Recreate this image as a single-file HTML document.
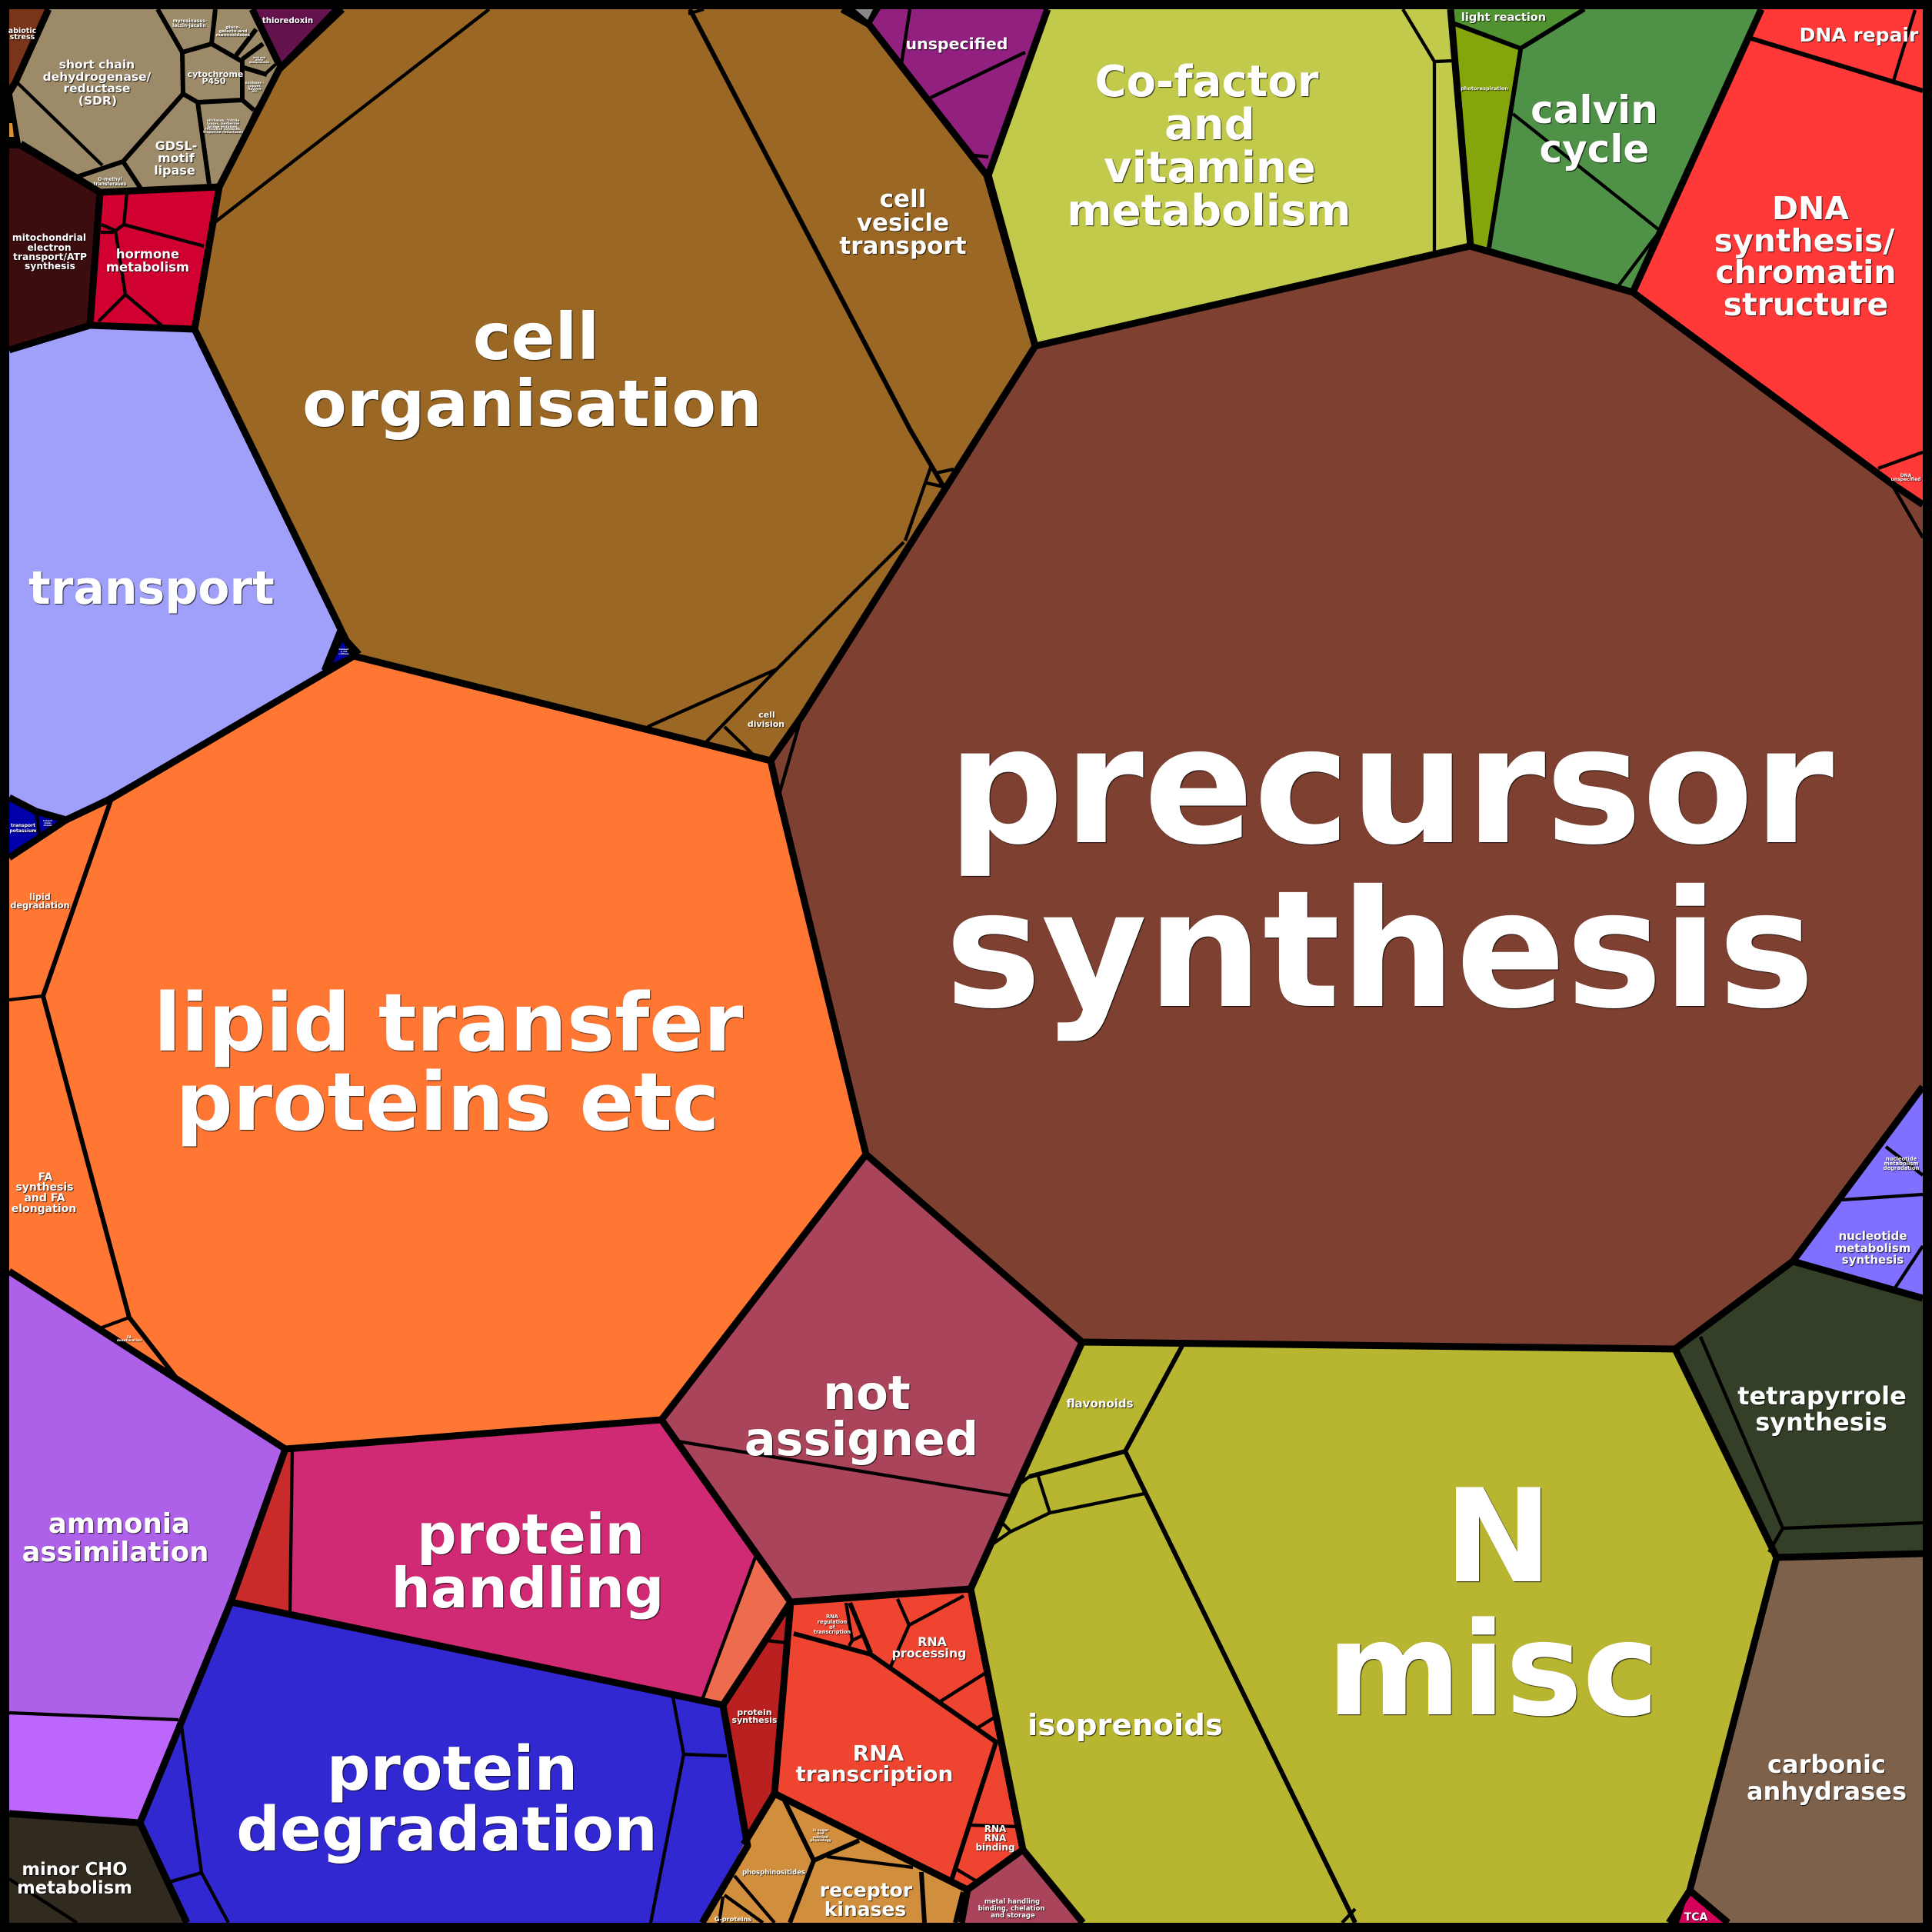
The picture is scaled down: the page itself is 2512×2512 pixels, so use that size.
<!DOCTYPE html>
<html><head><meta charset="utf-8"><style>
html,body{margin:0;padding:0;background:#000}
svg{display:block}
text{font-family:"DejaVu Sans","Liberation Sans",sans-serif;font-weight:700;fill:#fff;text-anchor:middle;text-shadow:1px 1px 1px rgba(0,0,0,.8)}
.a,.b,.c{fill:none;stroke:#000;stroke-linejoin:round;stroke-linecap:butt}
.a{stroke-width:9}.b{stroke-width:6}.c{stroke-width:4.3}
</style></head><body>
<svg xmlns="http://www.w3.org/2000/svg" width="2512" height="2512" viewBox="0 0 2512 2512">
<rect width="2512" height="2512" fill="#000"/>
<!-- fills -->
<polygon fill="#9a6724" points="445,12 363,90 285,243 253,428 460,853 1002,989 1042,932 1346,450 1283,228 1130,32 1095,12"/>
<polygon fill="#7e4131" points="1346,450 1911,320 2123,380 2461,630 2500,660 2500,1413 2331,1640 2178,1754 1407,1745 1126,1501 1012,1033 1002,989 1042,932"/>
<polygon fill="#ff7733" points="460,853 1002,989 1012,1033 1126,1501 860,1846 371,1884 12,1653 12,1115 86,1066 145,1038"/>
<polygon fill="#a0a0fa" points="12,455 117,423 253,428 445,830 425,873 86,1066 47,1055 12,1037"/>
<polygon fill="#0000aa" points="12,1037 47,1055 86,1065 12,1115"/>
<polygon fill="#ad60e8" points="12,1653 371,1884 300,2083 238,2237 230,2240 12,2227"/>
<polygon fill="#bd66fb" points="12,2227 232,2236 182,2370 12,2358"/>
<polygon fill="#302a1f" points="12,2358 182,2370 243,2500 12,2500"/>
<polygon fill="#d02a74" points="371,1884 860,1846 1028,2083 940,2217 300,2083"/>
<polygon fill="#c92a2a" points="371,1884 380,1884 377,2110 300,2083"/>
<polygon fill="#ec6c4d" points="982,2025 1028,2083 940,2217 913,2210"/>
<polygon fill="#aa445a" points="860,1846 1126,1501 1407,1745 1262,2066 1028,2083"/>
<polygon fill="#b8b630" points="1407,1745 2178,1754 2310,2025 2197,2458 2170,2500 1408,2500 1330,2405 1262,2066"/>
<polygon fill="#343f27" points="2178,1754 2331,1640 2500,1688 2500,2020 2310,2025"/>
<polygon fill="#7d614a" points="2310,2025 2500,2020 2500,2500 2247,2500 2197,2458"/>
<polygon fill="#d4005a" points="2197,2458 2247,2500 2183,2500"/>
<polygon fill="#8070ff" points="2331,1640 2500,1413 2500,1688"/>
<polygon fill="#ff3838" points="2290,12 2500,12 2500,656 2461,630 2123,380"/>
<polygon fill="#7e4131" points="2461,630 2500,656 2500,700"/>
<polygon fill="#4f9247" points="2060,12 2290,12 2123,380 1936,322 1977,63"/>
<polygon fill="#50922f" points="1886,12 2060,12 1977,63 1889,30"/>
<polygon fill="#85a50c" points="1889,30 1977,63 1936,322 1912,317"/>
<polygon fill="#c1ca4a" points="1362,12 1886,12 1912,317 1346,450 1285,228"/>
<polygon fill="#92207f" points="1145,12 1362,12 1285,228 1130,32"/>
<polygon fill="#000" points="1098,12 1145,12 1130,36"/>
<polygon fill="#888888" points="1112,12 1135,12 1128,26"/>
<polygon fill="#7a3419" points="12,12 63,12 20,107 12,110"/>
<polygon fill="#9c8a68" points="63,12 328,12 363,92 330,143 285,243 130,250 27,187 13,117 20,107"/>
<polygon fill="#000" points="12,110 15,117 27,187 35,200 12,195"/>
<polygon fill="#d99030" points="12,160 16,160 18,178 12,178"/>
<polygon fill="#3c0d0e" points="12,193 25,193 130,255 117,423 12,455"/>
<polygon fill="#d00030" points="130,250 285,243 253,428 117,423"/>
<polygon fill="#64134d" points="328,12 432,12 363,84"/>
<polygon fill="#3128d2" points="300,2083 940,2217 967,2398 913,2500 243,2500 182,2370 238,2237"/>
<polygon fill="#bb2020" points="1028,2083 1007,2332 970,2394 940,2217"/>
<polygon fill="#ee4430" points="1028,2083 1262,2066 1330,2405 1258,2457 1007,2332"/>
<polygon fill="#aa445a" points="1258,2457 1330,2405 1408,2500 1250,2500"/>
<polygon fill="#d18f3e" points="1007,2332 1258,2457 1250,2500 913,2500 967,2398"/>
<polygon fill="#000" points="440,815 470,848 425,875 418,870 432,835"/>
<polygon fill="#0000aa" points="445,835 462,848 433,862"/>
<!-- thin dividers -->
<g class="c">
<polyline points="636,12 278,290"/>
<polyline points="1175,705 1010,870 918,965"/><polyline points="1010,870 842,945"/><polyline points="942,945 978,980"/>
<polyline points="1211,605 1177,703"/><polyline points="1205,628 1227,633"/><polyline points="1217,615 1240,610"/>
<polyline points="895,18 915,12"/>
<polyline points="1042,932 1013,1033"/>
<polyline points="2461,632 2500,699"/><polyline points="2442,609 2500,588"/>
<polyline points="2490,13 2462,105"/>
<polyline points="1967,148 2156,298"/><polyline points="2153,307 2104,372"/>
<polyline points="1824,12 1865,80 1889,79"/><polyline points="1865,80 1865,327"/>
<polyline points="1183,12 1172,83"/><polyline points="1333,68 1210,127"/><polyline points="1267,202 1285,204"/>
<polyline points="165,250 161,292 265,320"/><polyline points="161,292 150,300 132,292"/><polyline points="131,302 148,302"/><polyline points="150,300 163,383 128,418"/><polyline points="163,383 210,423"/>
<polyline points="23,108 133,215"/>
<polyline points="345,96 358,84"/>
<polyline points="2452,1491 2500,1528"/><polyline points="2500,1553 2395,1560"/><polyline points="2500,1620 2463,1676"/>
<polyline points="2211,1738 2318,1987 2500,1980"/><polyline points="2318,1987 2300,2018"/>
<polyline points="881,1874 1316,1945"/>
<polyline points="982,2025 913,2210"/><polyline points="380,1884 377,2100"/>
<polyline points="12,2227 232,2236"/>
<polyline points="235,2237 262,2435 297,2500"/><polyline points="262,2435 220,2447"/>
<polyline points="875,2207 889,2281 846,2500"/><polyline points="889,2281 945,2283"/>
<polyline points="997,2133 1023,2136"/>
<polyline points="1488,1942 1365,1967 1313,1992 1290,2008"/><polyline points="1350,1920 1365,1967"/><polyline points="1303,1980 1313,1990"/><polyline points="1338,1920 1325,1930"/>
<polyline points="12,2443 100,2500"/>
<polyline points="1243,2430 1273,2448"/><polyline points="1262,2373 1323,2375"/>
<polyline points="1100,2084 1108,2133 1104,2140"/><polyline points="1108,2133 1122,2126"/>
<polyline points="1167,2079 1182,2113 1253,2075"/><polyline points="1182,2113 1158,2167"/><polyline points="1223,2212 1280,2176"/><polyline points="1272,2246 1293,2233"/>
<polyline points="1075,2414 1187,2428"/><polyline points="955,2439 1007,2500"/><polyline points="942,2464 992,2500"/><polyline points="940,2466 935,2500"/>
<polyline points="12,1300 56,1295"/>
<polyline points="130,1727 168,1713 232,1795"/>
<polyline points="47,1055 52,1090"/>
<polyline points="1745,2500 1762,2482"/>
</g>
<g class="b">
<polyline points="897,12 1183,558 1227,633"/>
<polyline points="145,1038 56,1295 168,1713 232,1795"/>
<polyline points="2277,50 2500,118"/>
<polyline points="1889,30 1977,63 2060,12"/><polyline points="1977,65 1936,322"/>
<polyline points="1537,1750 1463,1887 1338,1920"/><polyline points="1463,1887 1762,2500"/>
<polyline points="205,12 237,68 238,122 160,210 100,230"/><polyline points="237,68 275,57 280,12"/><polyline points="275,57 315,80 315,130 257,133 238,122"/><polyline points="160,210 183,245"/><polyline points="257,133 272,240"/><polyline points="315,130 330,143"/><polyline points="317,88 347,97"/><polyline points="307,72 333,38"/><polyline points="315,77 342,57"/>
<polyline points="1032,2124 1132,2151 1295,2265 1237,2445"/><polyline points="1105,2084 1132,2149"/>
<polyline points="1020,2341 1058,2419 1027,2500"/><polyline points="1058,2419 1117,2393"/><polyline points="1198,2434 1202,2500"/><polyline points="1252,2460 1242,2500"/>
</g>
<g class="a">
<polyline points="445,12 363,90 285,243 253,428 460,853 1002,989 1042,932 1346,450 1283,228 1130,32 1095,12"/>
<polyline points="1346,450 1911,320 2123,380 2461,630 2500,656"/>
<polyline points="2500,1413 2331,1640 2178,1754 1407,1745 1126,1501 1012,1033 1002,989"/>
<polyline points="460,853 145,1038 86,1066 12,1115"/><polyline points="253,428 117,423 12,455"/><polyline points="86,1066 47,1055 12,1037"/>
<polyline points="1126,1501 860,1846 371,1884 12,1653"/>
<polyline points="371,1884 300,2083 182,2370 243,2500"/><polyline points="12,2358 182,2370"/>
<polyline points="300,2083 940,2217 972,2400 913,2500"/>
<polyline points="860,1846 1028,2083 1262,2066 1330,2405 1408,2500"/>
<polyline points="1407,1745 1262,2066"/>
<polyline points="1028,2083 940,2217"/><polyline points="1028,2083 1007,2332 967,2398"/><polyline points="1007,2332 1258,2457 1330,2405"/><polyline points="1258,2457 1250,2500"/>
<polyline points="2178,1754 2310,2025 2500,2020"/><polyline points="2310,2025 2197,2458 2170,2500"/><polyline points="2197,2458 2247,2500"/>
<polyline points="2331,1640 2500,1688"/>
<polyline points="2290,12 2123,380"/>
<polyline points="1886,12 1912,320"/>
<polyline points="1362,12 1285,228 1346,450"/>
<polyline points="63,12 20,107 12,120"/><polyline points="27,187 130,250 285,243"/><polyline points="130,250 117,423"/>
<polyline points="328,12 363,84"/>
</g>
<!-- frame -->
<path d="M0 0H2512V2512H0Z M12 12V2500H2500V12Z" fill="#000" fill-rule="evenodd"/>
<!-- labels -->
<g font-size="211"><text x="1808" y="1095">precursor</text><text x="1794" y="1308">synthesis</text></g>
<g font-size="84"><text x="697" y="467">cell</text><text x="692" y="554">organisation</text></g>
<text x="197" y="785" font-size="60">transport</text>
<g font-size="104"><text x="583" y="1366">lipid transfer</text><text x="582" y="1469">proteins etc</text></g>
<g font-size="72"><text x="690" y="2020">protein</text><text x="686" y="2090">handling</text></g>
<g font-size="79.5"><text x="588" y="2327">protein</text><text x="581" y="2406">degradation</text></g>
<g font-size="60.5"><text x="1127" y="1832">not</text><text x="1120" y="1892">assigned</text></g>
<g font-size="168"><text x="1948" y="2056">N</text><text x="1941" y="2229">misc</text></g>
<text x="1463" y="2256" font-size="38.7">isoprenoids</text>
<text x="1430" y="1830" font-size="15">flavonoids</text>
<g font-size="56"><text x="1569" y="125">Co-factor</text><text x="1573" y="181">and</text><text x="1573" y="237">vitamine</text><text x="1572" y="293">metabolism</text></g>
<g font-size="50"><text x="2073" y="160">calvin</text><text x="2073" y="211">cycle</text></g>
<g font-size="41"><text x="2354" y="285">DNA</text><text x="2346" y="327">synthesis/</text><text x="2348" y="368">chromatin</text><text x="2348" y="410">structure</text></g>
<text x="2417" y="54" font-size="25">DNA repair</text>
<text x="1955" y="27" font-size="14.5">light reaction</text>
<text x="1930" y="117" font-size="6.5">photorespiration</text>
<text x="1244" y="64" font-size="20.5">unspecified</text>
<g font-size="31"><text x="1174" y="269">cell</text><text x="1174" y="300">vesicle</text><text x="1174" y="330">transport</text></g>
<text x="374" y="30" font-size="10.2">thioredoxin</text>
<g font-size="9.5"><text x="29" y="43">abiotic</text><text x="29" y="51">stress</text></g>
<g font-size="15.5"><text x="126" y="89">short chain</text><text x="126" y="105">dehydrogenase/</text><text x="126" y="120">reductase</text><text x="127" y="136">(SDR)</text></g>
<g font-size="11"><text x="280" y="100">cytochrome</text><text x="278" y="109">P450</text></g>
<g font-size="16"><text x="229" y="195">GDSL-</text><text x="229" y="211">motif</text><text x="227" y="227">lipase</text></g>
<g font-size="6"><text x="143" y="235">O-methyl</text><text x="143" y="241">transferases</text></g>
<g font-size="12.3"><text x="64" y="313">mitochondrial</text><text x="64" y="326">electron</text><text x="65" y="338">transport/ATP</text><text x="65" y="350">synthesis</text></g>
<g font-size="16.4"><text x="192" y="336">hormone</text><text x="192" y="353">metabolism</text></g>
<g font-size="6"><text x="247" y="29">myrosinases-</text><text x="246" y="35">lectin-jacalin</text></g>
<g font-size="5.5"><text x="304" y="37">gluco-,</text><text x="303" y="42">galacto-and</text><text x="303" y="47">mannosidases</text></g>
<g font-size="3.4"><text x="337" y="76">acid and</text><text x="337" y="79">other</text><text x="337" y="82">phosphatases</text></g>
<g font-size="4.3"><text x="290" y="158">nitrilases, *nitrile</text><text x="290" y="162">lyases, berberine</text><text x="290" y="166">bridge enzymes,</text><text x="290" y="169">reticuline oxidases,</text><text x="290" y="173">troponine reductases</text></g>
<g font-size="4.3"><text x="331" y="109">oxidases -</text><text x="331" y="113">copper,</text><text x="331" y="117">flavone</text><text x="331" y="120">etc</text></g>
<g font-size="28"><text x="1142" y="2289">RNA</text><text x="1137" y="2316">transcription</text></g>
<g font-size="15.8"><text x="1212" y="2140">RNA</text><text x="1208" y="2155">processing</text></g>
<g font-size="6.6"><text x="1082" y="2104">RNA</text><text x="1082" y="2111">regulation</text><text x="1082" y="2118">of</text><text x="1082" y="2124">transcription</text></g>
<g font-size="12"><text x="1294" y="2382">RNA</text><text x="1294" y="2394">RNA</text><text x="1294" y="2406">binding</text></g>
<g font-size="11"><text x="981" y="2230">protein</text><text x="981" y="2240">synthesis</text></g>
<text x="1006" y="2437" font-size="8.5">phosphinositides</text>
<g font-size="4.5"><text x="1067" y="2381">in sugar</text><text x="1067" y="2385">and</text><text x="1067" y="2390">nutrient</text><text x="1067" y="2394">physiology</text></g>
<g font-size="25"><text x="1126" y="2466">receptor</text><text x="1125" y="2491">kinases</text></g>
<text x="953" y="2498" font-size="8.2">G-proteins</text>
<g font-size="8.5"><text x="1316" y="2475">metal handling</text><text x="1315" y="2484">binding, chelation</text><text x="1317" y="2493">and storage</text></g>
<g font-size="22.7"><text x="97" y="2438">minor CHO</text><text x="97" y="2462">metabolism</text></g>
<g font-size="35.6"><text x="155" y="1993">ammonia</text><text x="150" y="2030">assimilation</text></g>
<g font-size="32"><text x="2375" y="2305">carbonic</text><text x="2375" y="2340">anhydrases</text></g>
<g font-size="32"><text x="2369" y="1826">tetrapyrrole</text><text x="2368" y="1860">synthesis</text></g>
<text x="2205" y="2497" font-size="14">TCA</text>
<g font-size="15"><text x="2435" y="1612">nucleotide</text><text x="2435" y="1628">metabolism</text><text x="2435" y="1643">synthesis</text></g>
<g font-size="6.8"><text x="2472" y="1509">nucleotide</text><text x="2472" y="1515">metabolism</text><text x="2472" y="1521">degradation</text></g>
<g font-size="6"><text x="2478" y="620">DNA</text><text x="2478" y="625">unspecified</text></g>
<g font-size="11"><text x="997" y="933">cell</text><text x="996" y="945">division</text></g>
<g font-size="11.2"><text x="52" y="1170">lipid</text><text x="52" y="1181">degradation</text></g>
<g font-size="14"><text x="59" y="1535">FA</text><text x="58" y="1548">synthesis</text><text x="58" y="1562">and FA</text><text x="57" y="1576">elongation</text></g>
<g font-size="4.5"><text x="168" y="1740">FA</text><text x="168" y="1744">desaturation</text></g>
<g font-size="6"><text x="30" y="1075">transport</text><text x="30" y="1082">potassium</text></g>
<g font-size="2.2"><text x="62" y="1068">transport</text><text x="62" y="1071">calcium</text><text x="62" y="1074">channels</text></g>
<g font-size="2.4"><text x="447" y="845">transport</text><text x="447" y="848">p- and</text><text x="447" y="851">v-ATPases</text></g>
</svg>
</body></html>
